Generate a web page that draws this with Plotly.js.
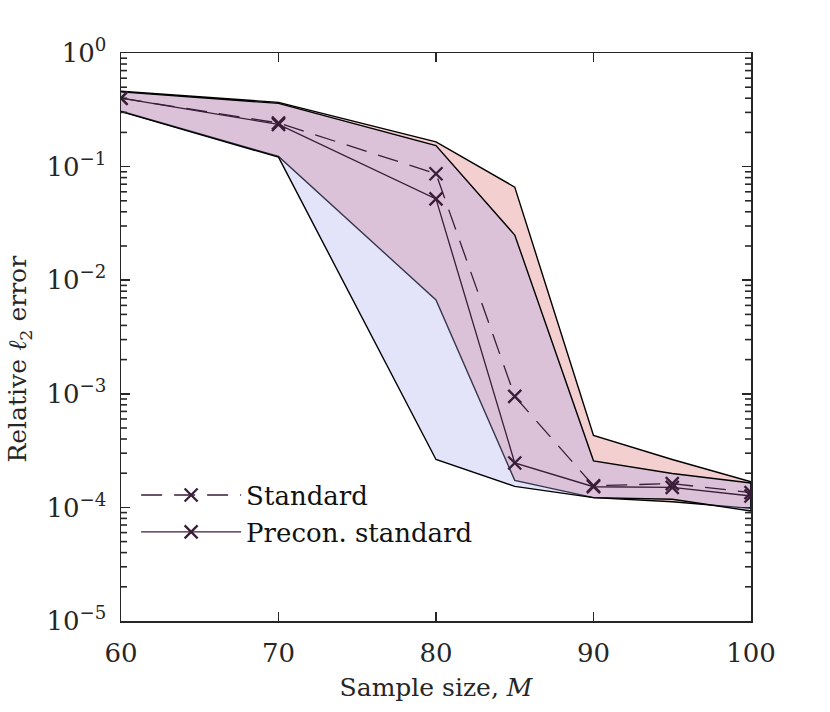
<!DOCTYPE html>
<html>
<head>
<meta charset="utf-8">
<script src="https://cdn.plot.ly/plotly-3.0.1.min.js"></script>
<style>html,body{margin:0;padding:0;background:#fff;}#chart{width:830px;height:712px;}</style>
</head>
<body>
<div id="chart"></div>
<script>
const sampleSize = [60, 70, 80, 85, 90, 95, 100];
const standardMean = [0.40, 0.242, 0.0866, 9.5e-4, 1.55e-4, 1.62e-4, 1.35e-4];
const standardUpper = [0.46, 0.368, 0.165, 0.066, 4.3e-4, 2.64e-4, 1.68e-4];
const standardLower = [0.307, 0.123, 6.7e-3, 1.73e-4, 1.22e-4, 1.12e-4, 9.8e-5];
const preconMean = [0.40, 0.235, 0.052, 2.46e-4, 1.52e-4, 1.50e-4, 1.26e-4];
const preconUpper = [0.455, 0.36, 0.153, 0.025, 2.57e-4, 1.99e-4, 1.64e-4];
const preconLower = [0.305, 0.121, 2.64e-4, 1.53e-4, 1.22e-4, 1.18e-4, 9.3e-5];
const seriesNames = ['Standard', 'Precon. standard'];
const yTickVals = [1e-5, 1e-4, 1e-3, 1e-2, 1e-1, 1];
const yTickText = ['10<sup>−5</sup>', '10<sup>−4</sup>', '10<sup>−3</sup>', '10<sup>−2</sup>', '10<sup>−1</sup>', '10<sup>0</sup>'];
const xTickVals = [60, 70, 80, 90, 100];
const minorDigits = [2, 3, 4, 5, 6, 7, 8, 9];
const xTitle = 'Sample size, <i>M</i>';
const yTitle = 'Relative <i>ℓ</i><sub>2</sub> error';

const yLogRange = [-5, 0];
const plotWidthPx = 630;
const minorLenPx = 6;
const axisColor = '#262626';

const yMinorVals = [];
yTickVals.slice(0, -1).forEach(d => minorDigits.forEach(k => yMinorVals.push(d * k)));

const minorShapes = [];
yMinorVals.forEach(v => {
  const frac = (Math.log10(v) - yLogRange[0]) / (yLogRange[1] - yLogRange[0]);
  [[0, minorLenPx / plotWidthPx], [1 - minorLenPx / plotWidthPx, 1]].forEach(([a, b]) => {
    minorShapes.push({type: 'line', xref: 'paper', yref: 'paper', x0: a, x1: b, y0: frac, y1: frac,
                      layer: 'above', line: {color: axisColor, width: 1.6}});
  });
});

function band(upper, lower, fillcolor) {
  return {
    x: sampleSize.concat(sampleSize.slice().reverse()),
    y: upper.concat(lower.slice().reverse()),
    type: 'scatter', mode: 'lines', fill: 'toself', fillcolor: fillcolor,
    line: {color: '#000', width: 1.4}, showlegend: false, hoverinfo: 'skip'
  };
}
const lineColor = '#3a1d38';
const traces = [
  band(standardUpper, standardLower, 'rgba(232,160,160,0.5)'),
  band(preconUpper, preconLower, 'rgba(168,168,240,0.32)'),
  {x: sampleSize, y: standardMean, name: seriesNames[0], type: 'scatter', mode: 'lines+markers',
   line: {color: lineColor, width: 1.3, dash: '21px,12px'},
   marker: {symbol: 'x-thin-open', size: 13, line: {color: lineColor, width: 2.3}}},
  {x: sampleSize, y: preconMean, name: seriesNames[1], type: 'scatter', mode: 'lines+markers',
   line: {color: lineColor, width: 1.3},
   marker: {symbol: 'x-thin-open', size: 13, line: {color: lineColor, width: 2.3}}}
];
const font = "DejaVu Serif";
const layout = {
  width: 830, height: 712,
  margin: {l: 121, r: 79, t: 53, b: 91},
  paper_bgcolor: '#fff', plot_bgcolor: '#fff',
  font: {family: font, color: axisColor},
  showlegend: true,
  legend: {x: 0.024, y: 0.263, xanchor: 'left', yanchor: 'top', bgcolor: 'rgba(0,0,0,0)',
           font: {family: font, size: 26, color: '#111'}, itemwidth: 100, tracegroupgap: 0},
  xaxis: {
    range: [60, 100], tickvals: xTickVals, ticks: 'inside', ticklen: 9, tickwidth: 1.5,
    tickcolor: axisColor, showline: true, linecolor: axisColor, linewidth: 1.5, mirror: 'allticks',
    showgrid: false, zeroline: false, tickfont: {size: 26, family: font, color: axisColor},
    ticklabelstandoff: 8,
    title: {text: xTitle, font: {size: 25, family: font, color: axisColor}, standoff: 12}
  },
  yaxis: {
    type: 'log', range: yLogRange, tickvals: yTickVals, ticktext: yTickText,
    ticks: 'inside', ticklen: 9, tickwidth: 1.5, tickcolor: axisColor,
    showline: true, linecolor: axisColor, linewidth: 1.5, mirror: 'allticks',
    showgrid: false, zeroline: false, tickfont: {size: 26, family: font, color: axisColor},
    ticklabelstandoff: 8
  },
  shapes: minorShapes,
  annotations: [{
    text: yTitle, xref: 'paper', yref: 'paper', x: -0.162, y: 0.462,
    xanchor: 'center', yanchor: 'middle', textangle: -90, showarrow: false,
    font: {size: 25, family: font, color: axisColor}
  }]
};
Plotly.newPlot('chart', traces, layout, {displayModeBar: false, staticPlot: true});
</script>
</body>
</html>
